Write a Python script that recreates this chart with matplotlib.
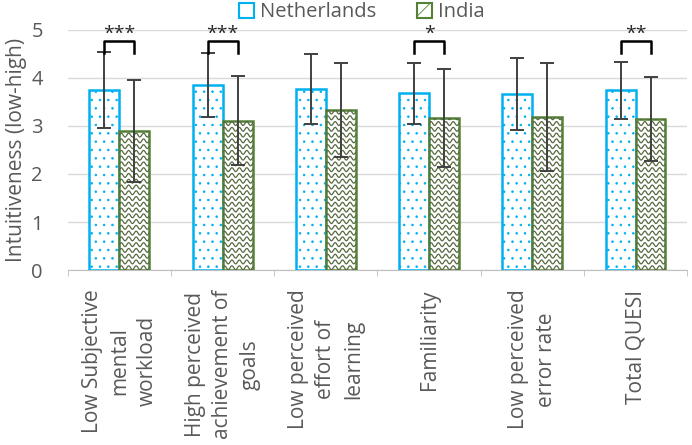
import numpy as np
import matplotlib
matplotlib.use('Agg')
import matplotlib.pyplot as plt
from matplotlib.patches import Patch

plt.rcParams['font.family'] = ['Open Sans', 'DejaVu Sans']
plt.rcParams['hatch.linewidth'] = 0.6

# data
categories = ['Low Subjective\nmental\nworkload',
              'High perceived\nachievement of\ngoals',
              'Low perceived\neffort of\nlearning',
              'Familiarity',
              'Low perceived\nerror rate',
              'Total QUESI']
nl_mean = [3.74, 3.85, 3.77, 3.68, 3.66, 3.74]
nl_sd = [0.79, 0.66, 0.72, 0.63, 0.75, 0.59]
india_mean = [2.90, 3.11, 3.33, 3.17, 3.19, 3.14]
india_sd = [1.06, 0.93, 0.98, 1.02, 1.12, 0.87]
# significance marks (category index -> stars)
signif = {0: '***', 1: '***', 3: '*', 5: '**'}

grey = '#595959'
blue = '#00b0f0'
green = '#538135'

fig = plt.figure(figsize=(6.92, 4.45), dpi=100)
ax = fig.add_axes([0.098, 0.393, 0.895, 0.54])

x = np.arange(len(categories))
w = 0.29

nl_bars = ax.bar(x - w / 2, nl_mean, w, color='white', edgecolor=blue,
                 linewidth=1.8, hatch='..', zorder=3)
india_bars = ax.bar(x + w / 2, india_mean, w, color='white', edgecolor=green,
                    linewidth=1.8, zorder=3)

# wavy fill pattern for the India bars (clipped to each bar)
for b in india_bars:
    x0, y0 = b.get_x(), b.get_y()
    bw, bh = b.get_width(), b.get_height()
    xs = np.linspace(x0, x0 + bw, 100)
    for yy in np.arange(y0 + 0.05, y0 + bh + 0.12, 0.12):
        ln, = ax.plot(xs, yy + 0.04 * np.sin((xs - x0) / 0.072 * 2 * np.pi),
                      color='#56693f', lw=0.9, zorder=3.5)
        ln.set_clip_path(b)

ax.errorbar(x - w / 2, nl_mean, yerr=nl_sd, fmt='none', ecolor='#404040',
            elinewidth=1.4, capsize=5, capthick=1.4, zorder=4)
ax.errorbar(x + w / 2, india_mean, yerr=india_sd, fmt='none', ecolor='#404040',
            elinewidth=1.4, capsize=5, capthick=1.4, zorder=4)

# significance brackets
for i, stars in signif.items():
    xl, xr = i - w / 2, i + w / 2
    ax.plot([xl, xl, xr, xr], [4.52, 4.76, 4.76, 4.52], color='black',
            lw=1.8, zorder=5, clip_on=False)
    ax.text(i, 4.72, stars, ha='center', va='bottom', fontsize=14,
            color='#262626', clip_on=False, zorder=5)

ax.set_ylim(0, 5)
ax.set_xlim(-0.5, len(categories) - 0.5)
ax.set_yticks(range(6))
ax.tick_params(axis='y', length=0, labelsize=14.5, labelcolor=grey, pad=18)
ax.yaxis.grid(True, color='#d9d9d9', lw=1)
ax.set_axisbelow(True)
ax.set_ylabel('Intuitiveness (low-high)', fontsize=15, color=grey, labelpad=3)

ax.set_xticks(x)
ax.set_xticklabels(categories, rotation=90, va='top', ha='center',
                   multialignment='center', fontsize=15, color=grey,
                   linespacing=1.4)
ax.tick_params(axis='x', which='major', length=0, pad=14)
ax.set_xticks(np.arange(-0.5, len(categories), 1.0), minor=True)
ax.tick_params(axis='x', which='minor', length=4, color='#bfbfbf')

for s in ['top', 'right', 'left']:
    ax.spines[s].set_visible(False)
ax.spines['bottom'].set_color('#bfbfbf')

handles = [Patch(facecolor='white', edgecolor=blue, lw=1.5, label='Netherlands'),
           Patch(facecolor='white', edgecolor=green, hatch='//', lw=1.5, label='India')]
leg = fig.legend(handles=handles, loc='center', bbox_to_anchor=(0.523, 0.972), ncol=2,
                 frameon=False, fontsize=14.5, handlelength=0.75, handleheight=0.75,
                 handletextpad=0.3, columnspacing=2.0, borderpad=0)
for t in leg.get_texts():
    t.set_color(grey)

fig.savefig('out.png', dpi=100)
